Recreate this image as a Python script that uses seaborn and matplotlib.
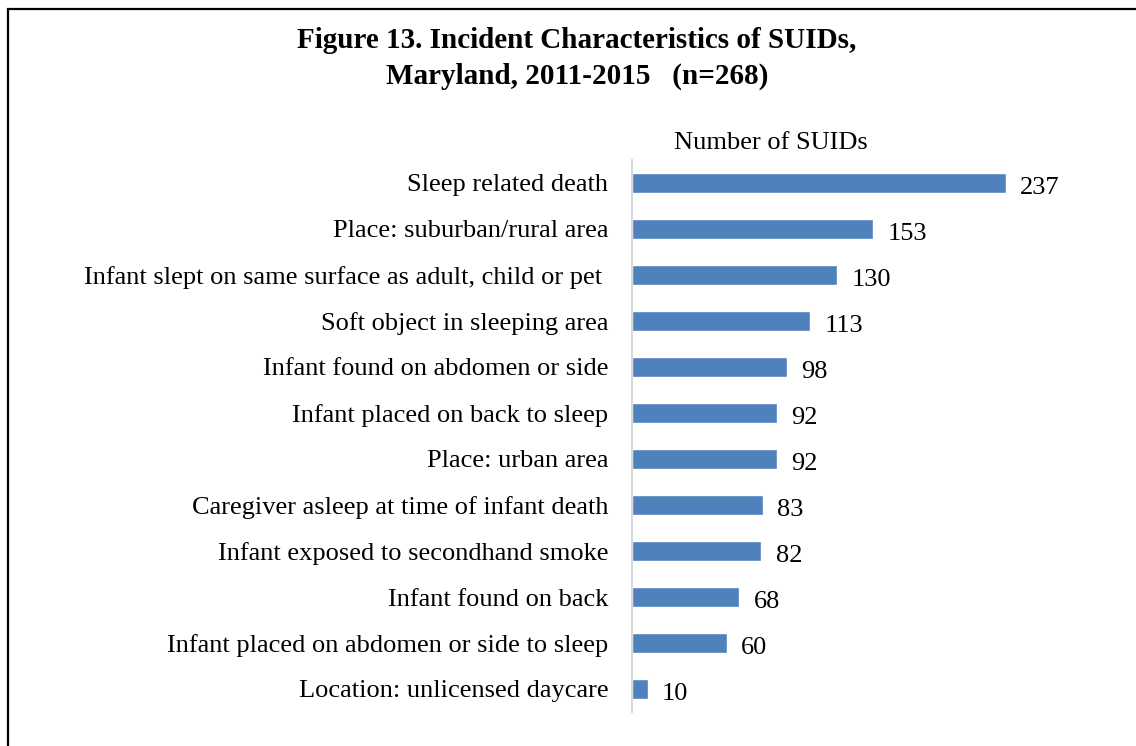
import pandas as pd
import matplotlib
matplotlib.use("Agg")
import matplotlib.pyplot as plt
import matplotlib.patches as patches
import seaborn as sns

categories = [
    "Sleep related death",
    "Place: suburban/rural area",
    "Infant slept on same surface as adult, child or pet ",
    "Soft object in sleeping area",
    "Infant found on abdomen or side",
    "Infant placed on back to sleep",
    "Place: urban area",
    "Caregiver asleep at time of infant death",
    "Infant exposed to secondhand smoke",
    "Infant found on back",
    "Infant placed on abdomen or side to sleep",
    "Location: unlicensed daycare",
]
counts = [237, 153, 130, 113, 98, 92, 92, 83, 82, 68, 60, 10]

df = pd.DataFrame({"Characteristic": categories, "SUIDs": counts})

sns.set_style("white")
plt.rcParams["font.family"] = ["Liberation Serif", "DejaVu Serif"]
plt.rcParams["text.color"] = "black"
plt.rcParams["ytick.color"] = "black"

W, H = 1136, 746
fig = plt.figure(figsize=(W / 100, H / 100), dpi=100)

# axes placed in pixel terms: zero line at x=632, bars from y=160 to 712
x0, x1 = 632, 632 + 250 * 374 / 237
y_top, y_bot = 160, 712
ax = fig.add_axes([x0 / W, 1 - y_bot / H, (x1 - x0) / W, (y_bot - y_top) / H])

sns.barplot(data=df, x="SUIDs", y="Characteristic", color="#4f81bd",
            width=0.43, saturation=1, ax=ax)

ax.set_xlim(0, 250)
ax.set_ylim(11.5, -0.5)
ax.set_xlabel("")
ax.set_ylabel("")
ax.set_xticks([])
ax.tick_params(axis="y", length=0, pad=17, labelsize=19)

for s in ["top", "right", "bottom"]:
    ax.spines[s].set_visible(False)
ax.spines["left"].set_color("#d9d9d9")
ax.spines["left"].set_linewidth(1.5)

for i, v in enumerate(counts):
    ax.text(v + 9, i + 0.05, str(v), va="center_baseline", ha="left", fontsize=19)

ax.set_title("Number of SUIDs", fontsize=19, pad=8, x=0.353)

fig.text(577 / W, 1 - 40 / H, "Figure 13. Incident Characteristics of SUIDs,",
         ha="center", va="center", fontsize=21, fontweight="bold")
fig.text(577 / W, 1 - 76 / H, "Maryland, 2011-2015   (n=268)",
         ha="center", va="center", fontsize=21, fontweight="bold")

# outer frame (left and top edges visible)
frame = patches.Rectangle((7.5 / W, -0.1), 1.2, 1.1 - 8.5 / H, transform=fig.transFigure,
                          fill=False, edgecolor="black", linewidth=1.6, clip_on=False)
fig.patches.append(frame)

fig.savefig("out.png", dpi=100, facecolor="white")
